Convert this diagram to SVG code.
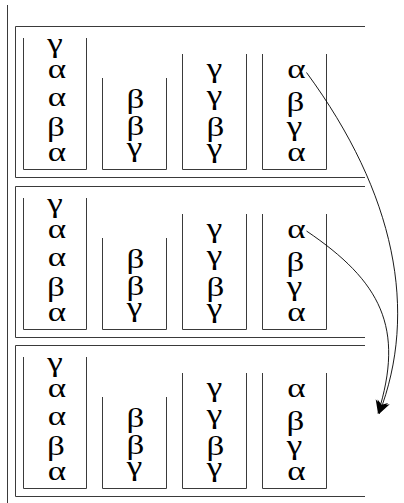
<svg xmlns="http://www.w3.org/2000/svg" width="404" height="503" viewBox="0 0 404 503">
<defs>
<style>
.frame{fill:none;stroke:#3a3a3a;stroke-width:1}
.col{fill:none;stroke:#3a3a3a;stroke-width:1}
.g{font-family:"Liberation Serif","Times New Roman",serif;font-size:27px;fill:#000;text-anchor:middle;transform-box:fill-box;transform-origin:center;transform:scaleX(1.3)}
.conn{fill:none;stroke:#000;stroke-width:0.9}
</style>
<marker id="ah" markerUnits="userSpaceOnUse" markerWidth="16" markerHeight="16" viewBox="-15 -8 16 16" refX="0" refY="0" orient="auto">
<path d="M0,0 L-13,-6.5 L-9,0 L-13,6.5 Z" fill="#000"/>
</marker>
</defs>
<rect width="404" height="503" fill="#fff"/>
<path class="frame" d="M7.5,5 V503"/>

<g id="panel1">
<path class="frame" d="M365,26.5 H15.5 V177.5 H365"/>
<g id="p1c1"><path class="col" d="M23.5,38 V169.5 H86.5 V38"/>
<text class="g" x="55" y="52.5">γ</text><text class="g" x="57" y="77.7">α</text><text class="g" x="57" y="106">α</text><text class="g" x="56" y="135.9">β</text><text class="g" x="57" y="160.9">α</text></g>
<g id="p1c2"><path class="col" d="M102.5,78 V169.5 H166.5 V78"/>
<text class="g" x="135.5" y="108.1">β</text><text class="g" x="135.5" y="135.4">β</text><text class="g" x="134.5" y="155.7">γ</text></g>
<g id="p1c3"><path class="col" d="M182.5,54 V169.5 H246.5 V54"/>
<text class="g" x="214.5" y="76.7">γ</text><text class="g" x="214.5" y="104.2">γ</text><text class="g" x="215.5" y="135.6">β</text><text class="g" x="214.5" y="156.7">γ</text></g>
<g id="p1c4"><path class="col" d="M262.5,54 V169.5 H326.5 V54"/>
<text class="g" x="296.5" y="78.5">α</text><text class="g" x="295.5" y="110.6">β</text><text class="g" x="294.5" y="135">γ</text><text class="g" x="296.5" y="161">α</text></g>
</g>

<g id="panel2" transform="translate(0,160)">
<path class="frame" d="M365,26.5 H15.5 V177.5 H365"/>
<g id="p2c1"><path class="col" d="M23.5,38 V169.5 H86.5 V38"/>
<text class="g" x="55" y="52.5">γ</text><text class="g" x="57" y="77.7">α</text><text class="g" x="57" y="106">α</text><text class="g" x="56" y="135.9">β</text><text class="g" x="57" y="160.9">α</text></g>
<g id="p2c2"><path class="col" d="M102.5,78 V169.5 H166.5 V78"/>
<text class="g" x="135.5" y="108.1">β</text><text class="g" x="135.5" y="135.4">β</text><text class="g" x="134.5" y="155.7">γ</text></g>
<g id="p2c3"><path class="col" d="M182.5,54 V169.5 H246.5 V54"/>
<text class="g" x="214.5" y="76.7">γ</text><text class="g" x="214.5" y="104.2">γ</text><text class="g" x="215.5" y="135.6">β</text><text class="g" x="214.5" y="156.7">γ</text></g>
<g id="p2c4"><path class="col" d="M262.5,54 V169.5 H326.5 V54"/>
<text class="g" x="296.5" y="78.5">α</text><text class="g" x="295.5" y="110.6">β</text><text class="g" x="294.5" y="135">γ</text><text class="g" x="296.5" y="161">α</text></g>
</g>

<g id="panel3" transform="translate(0,319)">
<path class="frame" d="M365,26.5 H15.5 V177.5 H365"/>
<g id="p3c1"><path class="col" d="M23.5,38 V169.5 H86.5 V38"/>
<text class="g" x="55" y="52.5">γ</text><text class="g" x="57" y="77.7">α</text><text class="g" x="57" y="106">α</text><text class="g" x="56" y="135.9">β</text><text class="g" x="57" y="160.9">α</text></g>
<g id="p3c2"><path class="col" d="M102.5,78 V169.5 H166.5 V78"/>
<text class="g" x="135.5" y="108.1">β</text><text class="g" x="135.5" y="135.4">β</text><text class="g" x="134.5" y="155.7">γ</text></g>
<g id="p3c3"><path class="col" d="M182.5,54 V169.5 H246.5 V54"/>
<text class="g" x="214.5" y="76.7">γ</text><text class="g" x="214.5" y="104.2">γ</text><text class="g" x="215.5" y="135.6">β</text><text class="g" x="214.5" y="156.7">γ</text></g>
<g id="p3c4"><path class="col" d="M262.5,54 V169.5 H326.5 V54"/>
<text class="g" x="296.5" y="78.5">α</text><text class="g" x="295.5" y="110.6">β</text><text class="g" x="294.5" y="135">γ</text><text class="g" x="296.5" y="161">α</text></g>
</g>

<g id="connectors">
<path class="conn" d="M306.5,72.5 C395.5,193.5 418.6,311.7 379,414" marker-end="url(#ah)"/>
<path class="conn" d="M306.5,231 C380.8,281.3 405,327.5 378,413.5" marker-end="url(#ah)"/>
</g>
</svg>
